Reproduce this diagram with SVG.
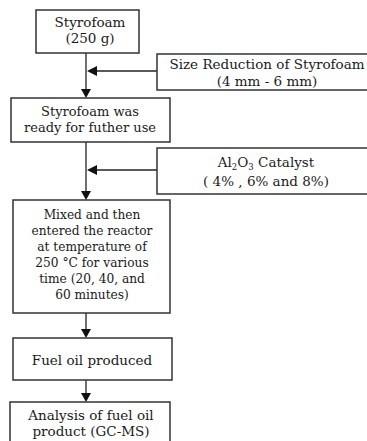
<svg xmlns="http://www.w3.org/2000/svg" width="367" height="441" viewBox="0 0 367 441">
<defs>
<style>
.box{fill:#fff;stroke:#333;stroke-width:1.5}
.ln{fill:none;stroke:#222;stroke-width:1.3}
.ah{fill:#111}
text{font-family:"DejaVu Serif","Liberation Serif",serif;font-size:13.5px;fill:#1a1a1a;text-anchor:middle}
.s12{font-size:12.2px}
.s13{font-size:13px}
</style>
</defs>
<rect width="367" height="441" fill="#fff"/>
<g id="connectors">
<line class="ln" x1="86" y1="53" x2="86" y2="90"/>
<polygon class="ah" points="81,89 91,89 86,98"/>
<line class="ln" x1="157" y1="71" x2="92" y2="71"/>
<polygon class="ah" points="87,71 97,66 97,76"/>
<line class="ln" x1="86" y1="142" x2="86" y2="192"/>
<polygon class="ah" points="81,191 91,191 86,200"/>
<line class="ln" x1="157" y1="170" x2="92" y2="170"/>
<polygon class="ah" points="87,170 97,165 97,175"/>
<line class="ln" x1="86" y1="313" x2="86" y2="330"/>
<polygon class="ah" points="81,329 91,329 86,338"/>
<line class="ln" x1="86" y1="380" x2="86" y2="394"/>
<polygon class="ah" points="81,393 91,393 86,402"/>
</g>
<g id="n1">
<rect class="box" x="36" y="10" width="103" height="43"/>
<text x="90" y="27">Styrofoam</text>
<text x="90" y="43">(250 g)</text>
</g>
<g id="n2">
<rect class="box" x="157" y="54" width="212" height="36"/>
<text x="267" y="69">Size Reduction of Styrofoam</text>
<text x="267" y="86">(4 mm - 6 mm)</text>
</g>
<g id="n3">
<rect class="box" x="11" y="98" width="159" height="44"/>
<text class="s13" x="90" y="116">Styrofoam was</text>
<text class="s13" x="90" y="132">ready for futher use</text>
</g>
<g id="n4">
<rect class="box" x="157" y="148" width="212" height="46"/>
<text x="266" y="167">Al<tspan font-size="8.5" dy="3">2</tspan><tspan dy="-3">O</tspan><tspan font-size="8.5" dy="3">3</tspan><tspan dy="-3"> Catalyst</tspan></text>
<text x="266" y="186">( 4% , 6% and 8%)</text>
</g>
<g id="n5">
<rect class="box" x="13" y="200" width="157" height="113"/>
<text class="s12" x="92" y="219">Mixed and then</text>
<text class="s12" x="92" y="235">entered the reactor</text>
<text class="s12" x="92" y="251">at temperature of</text>
<text class="s12" x="92" y="267">250 °C for various</text>
<text class="s12" x="92" y="283">time (20, 40, and</text>
<text class="s12" x="92" y="299">60 minutes)</text>
</g>
<g id="n6">
<rect class="box" x="13" y="338" width="159" height="42"/>
<text x="92" y="365">Fuel oil produced</text>
</g>
<g id="n7">
<rect class="box" x="10" y="402" width="160" height="45"/>
<text x="91" y="420">Analysis of fuel oil</text>
<text x="91" y="436">product (GC-MS)</text>
</g>
</svg>
